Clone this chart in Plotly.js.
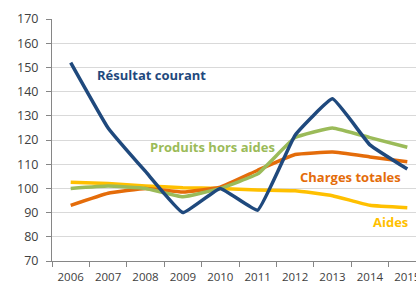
<!DOCTYPE html>
<html>
<head>
<meta charset="utf-8">
<script src="https://cdn.plot.ly/plotly-3.0.1.min.js"></script>
<style>
html,body{margin:0;padding:0;overflow:hidden;background:#fff;width:416px;height:286px;}
#chart{width:440px;height:286px;}
</style>
</head>
<body>
<div id="chart"></div>
<script>
const years = ['2006','2007','2008','2009','2010','2011','2012','2013','2014','2015'];
const resultatCourant = [152, 125, 107, 90, 100, 91, 122, 137, 118, 108];
const produitsHorsAides = [100, 101, 100, 96.5, 100, 106, 121, 125, 121, 117];
const chargesTotales = [93, 98, 100, 98.5, 100.5, 107.5, 114, 115, 113, 111];
const aides = [102.5, 102, 101, 100.3, 100, 99.3, 99, 97, 93, 92];
const yTicks = [70, 80, 90, 100, 110, 120, 130, 140, 150, 160, 170];

const labels = {
  resultat: 'Résultat courant',
  produits: 'Produits hors aides',
  charges: 'Charges totales',
  aides: 'Aides'
};

const colors = {
  resultat: '#1F497D',
  produits: '#9BBB59',
  charges: '#E46C0A',
  aides: '#FFC000'
};

function trace(y, color, name) {
  return {
    x: years, y: y, type: 'scatter', mode: 'lines', name: name,
    line: {color: color, width: 3.5, shape: 'spline', smoothing: 0.3},
    hoverinfo: 'skip'
  };
}

const data = [
  trace(aides, colors.aides, labels.aides),
  trace(chargesTotales, colors.charges, labels.charges),
  trace(produitsHorsAides, colors.produits, labels.produits),
  trace(resultatCourant, colors.resultat, labels.resultat)
];

const fontFam = '"Open Sans", "Noto Sans", sans-serif';

function ann(text, x, y, color, anchor) {
  return {
    text: '<b>' + text + '</b>', x: x, y: y, xref: 'x', yref: 'y',
    xanchor: anchor || 'left', yanchor: 'middle', showarrow: false,
    font: {family: fontFam, size: 13, color: color}
  };
}

const layout = {
  width: 440, height: 286,
  margin: {l: 52, r: 14, t: 19, b: 25, pad: 0},
  paper_bgcolor: '#fff', plot_bgcolor: '#fff',
  showlegend: false,
  font: {family: fontFam, size: 11, color: '#404040'},
  xaxis: {
    type: 'category', range: [-0.5, 9.5],
    tickvals: years, ticktext: years,
    showline: true, linecolor: '#868686', linewidth: 1,
    ticks: 'outside', tickson: 'boundaries', ticklen: 5, tickcolor: '#868686',
    ticklabelstandoff: 5,
    showgrid: false, zeroline: false,
    tickfont: {family: fontFam, size: 11.5, color: '#404040'}
  },
  yaxis: {
    range: [70, 170], tickvals: yTicks,
    showline: true, linecolor: '#868686', linewidth: 1,
    ticks: 'outside', ticklen: 5, tickcolor: '#868686',
    ticklabelstandoff: 5,
    showgrid: true, gridcolor: '#D9D9D9', gridwidth: 1,
    zeroline: false,
    tickfont: {family: fontFam, size: 12.5, color: '#404040'}
  },
  annotations: [
    ann(labels.resultat, 0.66, 146.9, colors.resultat),
    ann(labels.produits, 2.08, 117.1, colors.produits),
    ann(labels.charges, 6.09, 104.7, colors.charges),
    ann(labels.aides, 9.06, 86.0, colors.aides, 'right')
  ]
};

Plotly.newPlot('chart', data, layout, {staticPlot: true, displayModeBar: false});
</script>
</body>
</html>
